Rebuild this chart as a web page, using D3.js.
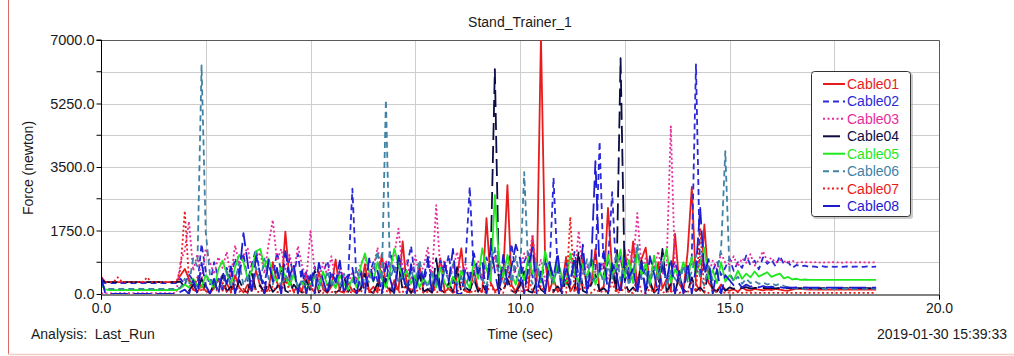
<!DOCTYPE html>
<html>
<head>
<meta charset="utf-8">
<script src="https://cdn.jsdelivr.net/npm/d3@7"></script>
<style>
  html, body { margin: 0; padding: 0; background: #fff; }
  svg { display: block; font-family: "Liberation Sans", Arial, sans-serif; }
</style>
</head>
<body>
<svg id="chart" width="1014" height="356"></svg>
<script>
// Cable force traces sampled every 0.1 s from 0.0 to 18.5 s (newton)
const sampleCount = 186;
const times = d3.range(sampleCount).map(i => i / 10);

const cable01 = [
  480,330,325,330,330,328,330,332,330,330,
  330,330,328,330,330,330,330,330,330,520,
  690,410,120,60,240,80,30,160,420,90,
  300,60,520,180,40,260,90,650,210,30,
  140,880,320,70,1720,380,60,240,90,560,
  180,40,620,130,30,210,950,70,40,310,
  90,30,160,820,60,200,40,1100,260,50,
  380,90,1450,160,40,230,780,60,120,40,
  260,980,70,140,30,510,1260,90,40,650,
  140,60,2090,310,80,160,520,3000,240,60,
  380,90,120,1580,340,7100,900,80,420,60,
  160,1020,70,260,30,980,140,300,1240,90,
  210,2370,640,80,180,1230,310,1450,180,960,
  1280,240,60,880,150,420,70,1660,290,80,
  1150,2950,260,90,1920,320,140,80,260,120,
  90,130,60,180,110,90,140,120,100,130,
  110,140,120,100,90,120,150,140,130,120,
  120,125,120,120,118,122,120,120,125,120,
  120,122,120,120,121,120
];
const cable02 = [
  360,300,300,302,300,300,300,300,300,300,
  300,300,300,300,300,300,300,300,300,420,
  260,540,380,210,1380,620,240,880,460,130,
  720,380,990,540,1120,360,820,1240,480,290,
  860,420,1150,640,320,980,520,1100,280,610,
  340,760,220,590,910,430,150,680,390,520,
  2900,260,640,180,520,880,340,610,220,1180,
  560,980,420,760,1320,380,690,250,840,470,
  380,920,560,1080,260,710,430,890,2950,520,
  720,340,1010,560,1240,430,860,620,1380,510,
  280,890,1130,460,740,320,960,520,3200,610,
  380,840,260,1160,490,720,310,980,680,4200,
  540,860,2810,420,1040,330,780,560,1280,410,
  720,350,960,520,1130,280,640,890,430,760,
  560,1020,6330,480,820,360,640,910,520,730,
  980,640,880,720,1060,790,920,680,1010,830,
  940,760,1050,820,880,720,800,760,780,750,
  760,740,770,750,760,745,755,750,760,750,
  755,750,745,760,750,755
];
const cable03 = [
  20,15,20,18,20,20,20,20,20,20,
  20,20,20,20,20,20,20,20,40,900,
  1200,2000,640,1100,380,1250,880,540,1020,720,
  1160,480,1340,820,1060,1280,640,920,1150,560,
  1380,2040,920,1240,680,1080,560,1320,780,420,
  1730,640,380,860,520,1040,320,740,460,280,
  620,380,840,1020,460,720,1280,560,920,680,
  1100,1800,640,920,380,1060,520,760,1280,440,
  2450,620,940,380,720,1160,480,820,360,640,
  920,380,760,540,1060,420,680,980,360,720,
  640,1120,880,1650,520,940,360,760,460,820,
  360,680,980,420,1740,560,760,320,640,520,
  860,420,720,380,960,560,1240,840,2230,680,
  980,460,720,1180,540,820,4620,640,380,760,
  520,880,640,1060,760,540,920,680,1120,860,
  820,1040,760,980,860,1100,780,940,1180,900,
  1000,860,940,900,880,920,860,880,870,880,
  870,880,860,875,870,880,870,865,875,870,
  870,875,870,868,872,870
];
const cable04 = [
  400,330,325,325,325,325,325,325,325,325,
  325,325,325,325,325,325,325,325,325,340,
  180,90,260,60,420,140,30,280,90,520,
  60,210,40,380,120,30,560,90,240,40,
  320,60,180,740,90,30,260,120,40,380,
  90,640,40,180,60,320,30,120,480,60,
  210,40,130,560,80,30,290,60,420,120,
  40,860,90,260,30,180,520,60,140,40,
  980,120,40,310,60,740,30,180,90,420,
  60,280,40,930,6200,180,60,420,90,30,
  240,620,80,40,360,120,30,880,60,210,
  40,390,130,60,1180,90,30,260,540,80,
  160,40,760,120,6500,320,60,180,40,920,
  90,350,40,160,1240,60,280,40,510,120,
  30,460,80,180,40,620,120,60,250,90,
  180,140,200,160,190,150,170,160,165,160,
  170,155,165,160,162,158,160,160,162,160,
  160,160,158,162,160,160,160,161,160,160,
  160,160,162,160,160,160
];
const cable05 = [
  260,130,110,110,108,110,110,110,110,110,
  110,110,110,110,110,110,110,110,110,160,
  260,180,420,240,180,520,360,140,680,920,
  560,280,740,1080,880,420,640,1180,1240,760,
  980,520,360,740,480,220,540,180,320,140,
  260,480,140,620,240,380,160,520,280,120,
  440,180,760,1120,620,340,880,420,180,640,
  1240,820,460,640,280,520,180,420,260,560,
  180,720,320,140,480,260,640,380,160,920,
  420,1260,680,360,2730,840,460,1080,520,260,
  740,380,1020,560,840,320,1180,640,280,920,
  480,260,1120,560,340,820,440,960,260,620,
  380,1080,520,780,1220,460,940,300,1160,520,
  840,260,1060,460,780,1240,320,680,460,880,
  380,1020,560,840,1280,420,660,300,880,340,
  520,380,640,420,560,460,620,480,540,600,
  470,520,560,430,470,400,420,390,400,390,
  390,392,388,390,391,390,389,390,390,390,
  390,390,391,390,389,390
];
const cable06 = [
  300,150,140,140,138,140,140,140,140,140,
  140,140,140,140,140,140,140,140,140,180,
  420,260,980,760,6300,1700,540,180,420,260,
  640,180,380,860,240,520,160,740,320,980,
  420,260,680,180,540,320,760,140,420,260,
  180,520,340,140,640,260,420,180,560,320,
  260,740,180,480,320,620,1180,240,5350,420,
  760,320,540,180,680,260,940,420,180,560,
  320,180,640,380,820,240,460,160,580,320,
  760,420,180,940,1280,520,260,680,320,1040,
  460,3360,620,280,840,420,180,560,320,760,
  240,620,380,840,180,520,960,320,440,680,
  280,760,420,1120,360,880,240,640,1380,420,
  580,260,740,340,920,180,640,420,260,780,
  340,620,1080,460,240,840,380,620,1240,3940,
  620,340,480,280,420,300,360,280,320,260,
  300,240,280,220,180,160,150,140,150,140,
  140,145,140,140,142,140,140,140,141,140,
  140,140,140,142,140,140
];
const cable07 = [
  350,330,330,330,460,330,330,330,330,330,
  330,460,330,330,330,330,330,330,330,700,
  2290,380,120,460,60,220,40,180,60,320,
  80,40,260,60,140,30,360,80,40,190,
  40,220,60,30,420,90,40,160,30,80,
  220,40,90,30,260,60,30,140,40,80,
  30,120,40,280,60,30,180,40,90,30,
  260,60,30,520,80,40,160,30,60,240,
  40,90,30,180,60,40,320,30,80,40,
  160,30,60,240,40,90,30,680,60,40,
  120,30,460,60,40,220,30,90,40,180,
  60,30,2120,80,40,260,60,30,140,40,
  90,40,320,30,60,180,40,30,460,60,
  30,140,40,260,30,80,40,190,30,60,
  40,320,60,1820,40,30,120,40,60,30,
  40,30,50,30,40,30,35,30,30,30,
  30,30,30,30,30,30,30,30,30,30,
  30,30,30,30,30,30,30,30,30,30,
  30,30,30,30,30,30
];
const cable08 = [
  480,20,0,0,0,0,0,0,0,0,
  0,0,0,0,0,0,0,0,0,60,
  120,0,380,0,860,240,0,420,0,620,
  280,760,0,520,1680,860,0,1040,560,0,
  940,340,720,0,1180,480,820,0,660,0,
  520,0,860,380,0,640,320,920,0,460,
  720,0,560,0,980,360,640,0,840,420,
  0,1060,580,0,820,0,680,420,1020,0,
  620,0,860,340,1240,0,0,720,380,1120,
  560,880,0,1340,620,0,1080,260,760,1360,
  980,0,760,1280,0,620,0,880,460,1140,
  0,760,280,1020,0,1360,0,840,3660,620,
  1180,0,840,540,0,980,440,720,0,880,
  0,1040,560,0,780,380,980,0,640,0,
  860,0,720,2370,540,960,0,680,0,520,
  380,240,320,180,260,200,240,180,220,190,
  200,180,190,170,185,175,180,175,180,175,
  175,178,175,176,175,175,177,175,175,176,
  175,175,176,175,175,175
];

const cableNames = ["Cable01","Cable02","Cable03","Cable04","Cable05","Cable06","Cable07","Cable08"];
const cableValues = [cable01, cable02, cable03, cable04, cable05, cable06, cable07, cable08];

const yTickValues = [0, 1750, 3500, 5250, 7000];
const yGridValues = [875, 1750, 2625, 3500, 4375, 5250, 6125];
const yMinorTicks = [875, 2625, 4375, 6125];
const xTickValues = [0, 5, 10, 15, 20];
const xGridValues = [2.5, 5, 7.5, 10, 12.5, 15, 17.5];

// Line appearance for each cable
const styles = {
  Cable01: { color: "#e81c1c", dash: null },
  Cable02: { color: "#2a2ad8", dash: "6,4" },
  Cable03: { color: "#e62c9c", dash: "2,2.5" },
  Cable04: { color: "#0c0c44", dash: "17,6" },
  Cable05: { color: "#1fe81f", dash: null },
  Cable06: { color: "#3f82a6", dash: "6,4" },
  Cable07: { color: "#e81c1c", dash: "2,2.5" },
  Cable08: { color: "#1c1cd0", dash: "17,6" }
};

const svg = d3.select("#chart");
const W = 1014, H = 356;
const plot = { left: 101, right: 939, top: 40, bottom: 294 };

// Outer frame edges
svg.append("line").attr("x1", 8.5).attr("x2", 8.5).attr("y1", 0).attr("y2", 354)
  .attr("stroke", "#d86a6a").attr("stroke-width", 1);
svg.append("line").attr("x1", 8).attr("x2", W).attr("y1", 354.5).attr("y2", 354.5)
  .attr("stroke", "#f2cfc6").attr("stroke-width", 1.5);

const x = d3.scaleLinear().domain([0, 20]).range([plot.left, plot.right]);
const y = d3.scaleLinear().domain([0, 7000]).range([plot.bottom, plot.top]);

// Grid
const grid = svg.append("g").attr("stroke", "#cdcdcd").attr("stroke-width", 1);
grid.selectAll("line.h").data(yGridValues).join("line")
  .attr("x1", plot.left).attr("x2", plot.right)
  .attr("y1", d => Math.round(y(d)) + 0.5).attr("y2", d => Math.round(y(d)) + 0.5);
grid.selectAll("line.v").data(xGridValues).join("line")
  .attr("y1", plot.top).attr("y2", plot.bottom)
  .attr("x1", d => Math.round(x(d)) + 0.5).attr("x2", d => Math.round(x(d)) + 0.5);

// Top and right frame of the plot area
svg.append("path")
  .attr("d", `M${plot.left},${plot.top + 0.5}H${plot.right + 0.5}V${plot.bottom}`)
  .attr("fill", "none").attr("stroke", "#5a5a5a").attr("stroke-width", 1);

// Traces
svg.append("clipPath").attr("id", "plotClip").append("rect")
  .attr("x", plot.left).attr("y", plot.top)
  .attr("width", plot.right - plot.left).attr("height", plot.bottom - plot.top);

const line = d3.line().x((d, i) => x(times[i])).y(d => y(d));
const traces = svg.append("g").attr("clip-path", "url(#plotClip)");
cableNames.forEach((name, k) => {
  traces.append("path")
    .datum(cableValues[k])
    .attr("d", line)
    .attr("fill", "none")
    .attr("stroke", styles[name].color)
    .attr("stroke-width", 1.8)
    .attr("stroke-linejoin", "round")
    .attr("stroke-dasharray", styles[name].dash);
});

// Axes
const fmt = d3.format(".1f");
const yAxis = svg.append("g").attr("transform", `translate(${plot.left + 0.5},0)`)
  .call(d3.axisLeft(y).tickValues(yTickValues).tickFormat(fmt).tickSize(5).tickPadding(2));
svg.append("g").attr("transform", `translate(${plot.left + 0.5},0)`)
  .selectAll("line").data(yMinorTicks).join("line")
  .attr("x1", -5).attr("x2", 0)
  .attr("y1", d => y(d)).attr("y2", d => y(d))
  .attr("stroke", "#000");
const xAxis = svg.append("g").attr("transform", `translate(0,${plot.bottom + 0.5})`)
  .call(d3.axisBottom(x).tickValues(xTickValues).tickFormat(fmt).tickSize(5).tickPadding(4));

[yAxis, xAxis].forEach(g => {
  g.selectAll("text").attr("font-size", 14).attr("fill", "#1a1a1a")
    .attr("font-family", "'Liberation Sans', Arial, sans-serif");
  g.select(".domain").attr("stroke", "#000");
});
yAxis.selectAll("text").attr("font-size", 14.5);
yAxis.select(".domain").attr("d", `M-5,${plot.top}H0V${plot.bottom}`);

// Text
const textFont = "'Liberation Sans', Arial, sans-serif";
svg.append("text").attr("x", 520).attr("y", 27).attr("text-anchor", "middle")
  .attr("font-size", 14).attr("font-family", textFont).attr("fill", "#1a1a1a")
  .text("Stand_Trainer_1");
svg.append("text").attr("transform", "translate(33,168) rotate(-90)")
  .attr("text-anchor", "middle").attr("font-size", 14).attr("font-family", textFont)
  .attr("fill", "#1a1a1a").text("Force (newton)");
svg.append("text").attr("x", 520).attr("y", 339).attr("text-anchor", "middle")
  .attr("font-size", 14).attr("font-family", textFont).attr("fill", "#1a1a1a")
  .text("Time (sec)");
svg.append("text").attr("x", 31).attr("y", 339)
  .attr("font-size", 14).attr("font-family", textFont).attr("fill", "#1a1a1a")
  .text("Analysis:  Last_Run").attr("xml:space", "preserve").style("white-space", "pre");
svg.append("text").attr("x", 1007).attr("y", 339).attr("text-anchor", "end")
  .attr("font-size", 14).attr("font-family", textFont).attr("fill", "#1a1a1a")
  .text("2019-01-30 15:39:33");

// Legend
const legend = svg.append("g");
legend.append("rect").attr("x", 813).attr("y", 73).attr("width", 100).attr("height", 146)
  .attr("rx", 3).attr("fill", "#9a9a9a").attr("opacity", 0.5);
legend.append("rect").attr("x", 811.5).attr("y", 71.5).attr("width", 99).attr("height", 145)
  .attr("rx", 3).attr("fill", "#fff").attr("stroke", "#333").attr("stroke-width", 1);
const rowY = d3.scalePoint().domain(cableNames).range([84, 206]);
cableNames.forEach(name => {
  const cy = rowY(name);
  legend.append("line").attr("x1", 823).attr("x2", 845).attr("y1", cy).attr("y2", cy)
    .attr("stroke", styles[name].color).attr("stroke-width", 2)
    .attr("stroke-dasharray", styles[name].dash);
  legend.append("text").attr("x", 847).attr("y", cy + 5)
    .attr("font-size", 14).attr("font-family", textFont)
    .attr("fill", styles[name].color).text(name);
});
</script>
</body>
</html>
